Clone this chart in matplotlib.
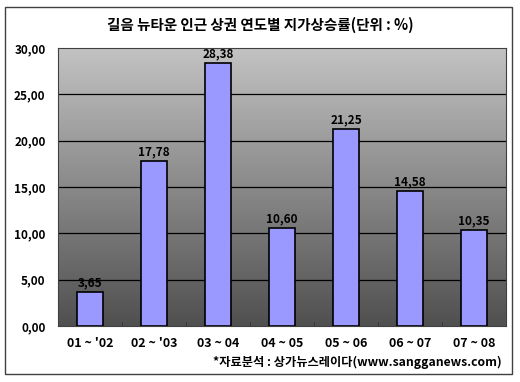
import matplotlib
matplotlib.use('Agg')
import matplotlib.pyplot as plt
from matplotlib.patches import Rectangle
import numpy as np

plt.rcParams['font.family'] = ['Noto Sans CJK KR', 'DejaVu Sans']

periods = ["01 ~ '02", "02 ~ '03", "03 ~ 04", "04 ~ 05", "05 ~ 06", "06 ~ 07", "07 ~ 08"]
rates = [3.65, 17.78, 28.38, 10.60, 21.25, 14.58, 10.35]
yticks = [0, 5, 10, 15, 20, 25, 30]

fig = plt.figure(figsize=(5.2, 3.82), dpi=100)
fig.patch.set_facecolor('white')

# outer frame
fig.patches.append(Rectangle((5 / 520, 1 - 374 / 382), 507 / 520, 367 / 382,
                             transform=fig.transFigure, fill=False,
                             edgecolor='#404040', linewidth=1.0))

ax = fig.add_axes([58 / 520, 1 - 326 / 382, 448 / 520, 278 / 382])
x = np.arange(len(periods))
ax.set_xlim(-0.5, len(periods) - 0.5)
ax.set_ylim(0, 30)

# gray gradient background
grad = np.linspace(80, 195, 256).reshape(-1, 1) / 255.0
ax.imshow(np.dstack([grad, grad, grad]), extent=(-0.5, len(periods) - 0.5, 0, 30),
          origin='lower', aspect='auto', zorder=0)

for t in yticks[1:-1]:
    ax.axhline(t, color='black', linewidth=0.9, zorder=1)

bars = ax.bar(x, rates, width=0.4, color='#9999ff', edgecolor='black',
              linewidth=1.2, zorder=2)
for xi, v in zip(x, rates):
    ax.text(xi, v + 0.3, f"{v:.2f}".replace('.', ','), ha='center', va='bottom',
            fontsize=8.5, fontweight='bold', color='black', zorder=3)

ax.set_yticks(yticks)
ax.set_yticklabels([f"{t:.2f}".replace('.', ',') for t in yticks],
                   fontsize=8.5, fontweight='bold')
ax.set_xticks(x)
ax.set_xticklabels(periods, fontsize=9, fontweight='bold')
ax.tick_params(axis='y', length=0, pad=9)
ax.tick_params(axis='x', length=0, pad=8)
ax.set_xticks(np.arange(-0.5, len(periods), 1), minor=True)
ax.tick_params(axis='x', which='minor', length=3, direction='in', color='#333333')
for s in ax.spines.values():
    s.set_color('#404040')
    s.set_linewidth(0.8)

fig.text(0.5, 1 - 25 / 382, '길음 뉴타운 인근 상권 연도별 지가상승률(단위 : %)',
         ha='center', va='center', fontsize=10.5, fontweight='bold')
fig.text(502 / 520, 1 - 362 / 382, '*자료분석 : 상가뉴스레이다(www.sangganews.com)',
         ha='right', va='center', fontsize=8.8, fontweight='bold')

fig.savefig('out.png', dpi=100)
